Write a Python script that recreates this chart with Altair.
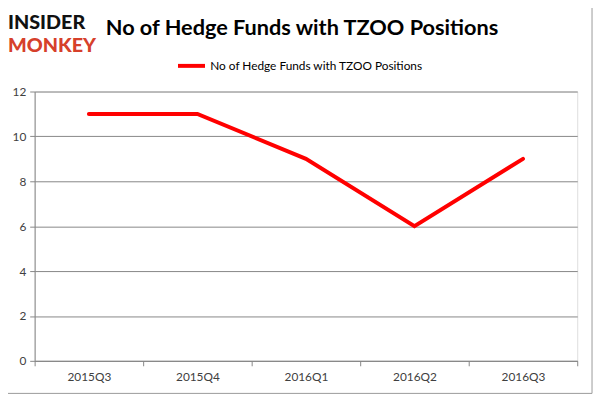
import altair as alt
import pandas as pd

quarters = ["2015Q3", "2015Q4", "2016Q1", "2016Q2", "2016Q3"]
funds = [11, 11, 9, 6, 9]
series_name = "No of Hedge Funds with TZOO Positions"
title_text = "No of Hedge Funds with TZOO Positions"

df = pd.DataFrame({"quarter": quarters, "funds": funds, "series": [series_name] * len(quarters)})

FONT = "Lato"
GRAY = "#868686"

base = alt.Chart(df)

line = base.mark_line(strokeWidth=4, strokeCap="round").encode(
    x=alt.X(
        "quarter:N",
        sort=quarters,
        bandPosition=0.5,
        scale=alt.Scale(type="band", paddingInner=0, paddingOuter=0),
        axis=alt.Axis(
            title=None, labelAngle=0, tickBand="extent", grid=False,
            domainColor=GRAY, tickColor=GRAY, tickSize=5, labelPadding=6,
            labelFont=FONT, labelFontSize=12, labelColor="#404040",
        ),
    ),
    y=alt.Y(
        "funds:Q",
        scale=alt.Scale(domain=[0, 12]),
        axis=alt.Axis(
            title=None, values=[0, 2, 4, 6, 8, 10, 12], grid=True, gridColor=GRAY,
            domainColor=GRAY, tickColor=GRAY, tickSize=5, labelPadding=4,
            labelFont=FONT, labelFontSize=12, labelColor="#404040",
        ),
    ),
    color=alt.Color(
        "series:N",
        scale=alt.Scale(range=["#ff0000"]),
        legend=alt.Legend(
            title=None, orient="none", legendX=143, legendY=-42,
            symbolType="stroke", symbolSize=750, symbolStrokeWidth=4,
            labelFont=FONT, labelFontSize=12, labelColor="#000000",
            labelOffset=3, labelLimit=400,
        ),
    ),
)

title = alt.Chart(pd.DataFrame({"t": [title_text]})).mark_text(
    font=FONT, fontSize=22, fontWeight="bold", color="#000000",
    align="center", baseline="alphabetic",
).encode(text="t:N", x=alt.value(271), y=alt.value(-57))

logo_top = alt.Chart(pd.DataFrame({"t": ["INSIDER"]})).mark_text(
    font=FONT, fontSize=20, fontWeight=900, color="#111111",
    align="left", baseline="alphabetic",
).encode(text="t:N", x=alt.value(-27), y=alt.value(-63))

logo_bot = alt.Chart(pd.DataFrame({"t": ["MONKEY"]})).mark_text(
    font=FONT, fontSize=20, fontWeight=900, color="#d6402b",
    align="left", baseline="alphabetic",
).encode(text="t:N", x=alt.value(-27), y=alt.value(-40))

border_r = alt.Chart(pd.DataFrame({"a": [0]})).mark_rule(color="#9a9a9a").encode(
    x=alt.value(565), y=alt.value(-89), y2=alt.value(306)
)
border_b = alt.Chart(pd.DataFrame({"a": [0]})).mark_rule(color="#9a9a9a").encode(
    x=alt.value(-27), x2=alt.value(565), y=alt.value(306)
)

chart = alt.layer(line, title, logo_top, logo_bot, border_r, border_b).properties(
    width=550,
    height=273,
    padding={"left": 27, "top": 82, "right": 17, "bottom": 35},
    autosize=alt.AutoSizeParams(type="none"),
).configure_view(stroke=None).configure(background="#ffffff")

chart.save("out.html", embed_options={"renderer": "svg", "actions": False})
